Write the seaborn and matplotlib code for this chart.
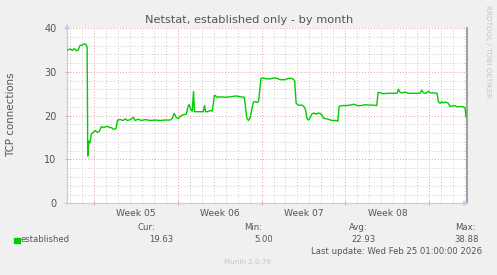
import numpy as np
import pandas as pd
import matplotlib
matplotlib.use("Agg")
import matplotlib.pyplot as plt
import matplotlib.transforms as mtransforms
import seaborn as sns

# ---------------- data ----------------
days = [0.05, 0.28, 0.44, 0.61, 0.78, 0.94, 1.07, 1.28, 1.44, 1.61, 1.68, 1.73,
        1.83, 1.92, 2.03, 2.19, 2.36, 2.53, 2.69, 2.86, 3.03, 3.19, 3.36, 3.53,
        3.69, 3.86, 4.08, 4.22, 4.44, 4.69, 4.86, 5.03, 5.28, 5.53, 5.69, 5.94,
        6.19, 6.53, 6.94, 7.36, 7.78, 8.19, 8.61, 8.78, 8.94, 9.11, 9.28, 9.44,
        9.69, 9.94, 10.11, 10.19, 10.32, 10.44, 10.55, 10.63, 10.94, 11.36, 11.47,
        11.55, 11.78, 11.94, 12.11, 12.30, 12.53, 12.78, 13.19, 13.61, 14.11,
        14.44, 14.78, 14.86, 15.0, 15.13, 15.28, 15.4, 15.55, 15.69, 15.86, 15.98,
        16.17, 16.36, 16.61, 16.94, 17.28, 17.53, 17.78, 18.19, 18.44, 18.78,
        18.98, 19.11, 19.28, 19.61, 19.78, 19.9, 20.0, 20.13, 20.28, 20.42, 20.61,
        20.78, 20.94, 21.11, 21.28, 21.4, 21.61, 21.86, 22.11, 22.5, 22.58, 22.69,
        22.94, 23.28, 23.61, 23.94, 24.19, 24.53, 24.86, 25.19, 25.53, 25.83,
        25.94, 26.19, 26.36, 26.78, 27.19, 27.53, 27.64, 27.78, 27.94, 28.19,
        28.44, 28.78, 29.11, 29.44, 29.58, 29.73, 29.94, 30.14, 30.28, 30.61,
        30.86, 30.97, 31.11, 31.25, 31.36, 31.53, 31.78, 31.94, 32.11, 32.36,
        32.53, 32.78, 33.05, 33.19, 33.27]
conns = [35.0, 35.2, 34.9, 35.3, 34.8, 35.0, 36.0, 36.1, 36.4, 36.2, 35.5, 10.8,
         14.2, 13.8, 15.8, 16.2, 16.6, 16.2, 16.4, 17.5, 17.3, 17.4, 17.6, 17.3,
         17.3, 16.9, 17.0, 19.0, 19.1, 18.9, 19.3, 18.9, 19.1, 19.6, 18.9, 19.2,
         18.9, 19.1, 18.9, 19.0, 18.9, 19.0, 19.0, 19.4, 20.5, 19.6, 19.3, 19.8,
         20.2, 20.3, 22.2, 22.5, 21.4, 21.0, 25.5, 20.9, 20.9, 20.9, 22.3,
         20.9, 20.9, 21.2, 21.0, 24.7, 24.2, 24.3, 24.2, 24.3, 24.5,
         24.3, 24.2, 22.4, 19.4, 18.9, 19.6, 21.3, 23.1, 23.2, 23.0, 23.3,
         28.5, 28.6, 28.4, 28.4, 28.6, 28.5, 28.2, 28.2, 28.5, 28.5,
         28.0, 22.8, 22.4, 22.4, 22.0, 21.3, 19.4, 19.0, 19.5, 20.4, 20.6,
         20.3, 20.6, 20.5, 20.0, 19.4, 19.3, 19.1, 18.9, 18.9, 18.7, 22.1,
         22.3, 22.3, 22.4, 22.6, 22.3, 22.3, 22.5, 22.4, 22.4, 22.3,
         25.3, 25.2, 25.0, 25.1, 25.1, 25.1, 26.0, 25.3, 25.2, 25.4,
         25.1, 25.1, 25.1, 25.1, 25.8, 25.2, 25.1, 25.6, 25.2, 25.2,
         25.1, 23.2, 22.8, 23.2, 22.9, 23.1, 22.9, 22.1, 22.2, 22.3,
         22.0, 22.1, 22.0, 21.8, 19.8]

week_labels = ["Week 05", "Week 06", "Week 07", "Week 08"]
week_starts = [2.22, 9.22, 16.22, 23.22, 30.22]
x_span = (0.0, 33.33)
y_span = (0, 40)
y_major = [0, 10, 20, 30, 40]
series_name = "established"
stat_names = ["Cur:", "Min:", "Avg:", "Max:"]
stat_values = ["19.63", "5.00", "22.93", "38.88"]
title = "Netstat, established only - by month"
ylabel = "TCP connections"
last_update = "Last update: Wed Feb 25 01:00:00 2026"
footer = "Munin 2.0.76"
side_text = "RRDTOOL / TOBI OETIKER"

# ---------------- style ----------------
BG = "#F0F0F0"
TXT = "#555555"
GREEN = "#00CC00"
MAJ = "#E6A0A0"
MINR = "#CCCCCC"
AXC = "#C8C8F0"

plt.rcParams["font.family"] = ["DejaVu Sans"]

W, H = 497, 275
fig = plt.figure(figsize=(W / 100, H / 100), dpi=100, facecolor=BG)

def fx(px):
    return px / W

def fy(py):
    return 1 - py / H

L, R, T, B = 67, 466.7, 28, 203.3
ax = fig.add_axes([fx(L), fy(B), (R - L) / W, (B - T) / H])
ax.set_facecolor("white")

df = pd.DataFrame({"day": days, "conns": conns})
sns.lineplot(data=df, x="day", y="conns", ax=ax, color=GREEN, linewidth=1.0,
             zorder=5)

ax.set_xlim(*x_span)
ax.set_ylim(*y_span)

# ticks and grid
ax.set_yticks(y_major)
ax.set_yticks(np.arange(y_span[0], y_span[1] + 0.1, 2), minor=True)
ax.set_xticks(week_starts)
first_day = week_starts[0] - np.floor(week_starts[0])
ax.set_xticks(np.arange(first_day, x_span[1], 1.0), minor=True)
ax.set_xticklabels([])

ax.grid(which="major", color=MAJ, linestyle=(0, (1, 2)), linewidth=0.7)
ax.grid(which="minor", color=MINR, linestyle=(0, (1, 2)), linewidth=0.7)
ax.set_axisbelow(True)

ax.tick_params(axis="y", which="major", labelsize=7, labelcolor=TXT,
               length=3, direction="inout", color=MAJ, pad=6)
ax.tick_params(axis="y", which="minor", length=2, direction="inout", color=MINR)
ax.tick_params(axis="x", which="major", length=3, direction="inout", color=MAJ)
ax.tick_params(axis="x", which="minor", length=2, direction="inout", color=MINR)

# week labels at mid-week
trans = mtransforms.blended_transform_factory(ax.transData, ax.transAxes)
for i, lab in enumerate(week_labels):
    mid = (week_starts[i] + week_starts[i + 1]) / 2
    ax.text(mid, -0.035, lab, transform=trans, ha="center", va="top",
            fontsize=6.6, color=TXT)

for s in ["top"]:
    ax.spines[s].set_visible(False)
ax.spines["left"].set_color(AXC)
ax.spines["bottom"].set_color(AXC)
ax.spines["right"].set_color("#909090")
ax.spines["right"].set_linewidth(1.2)

# axis arrows
ax.annotate("", xy=(0, 1.04), xytext=(0, 0.99), xycoords="axes fraction",
            arrowprops=dict(arrowstyle="-|>", color=AXC, lw=0.8,
                            mutation_scale=7), annotation_clip=False)
ax.annotate("", xy=(1.012, 0), xytext=(0.995, 0), xycoords="axes fraction",
            arrowprops=dict(arrowstyle="-|>", color=AXC, lw=0.8,
                            mutation_scale=7), annotation_clip=False)

ax.set_xlabel("")
ax.set_ylabel("")

# ---------------- texts ----------------
fig.text(fx(249), fy(20), title, ha="center", va="center", fontsize=8.2,
         color=TXT)
fig.text(fx(11), fy(114.5), ylabel, ha="center", va="center", rotation=90,
         fontsize=7.4, color=TXT)
fig.text(fx(488), fy(51), side_text, ha="center", va="center", rotation=270,
         fontsize=5.2, color="#C4C4C4")

# legend
fig.patches.append(plt.Rectangle((fx(14), fy(243)), fx(5.5), 5.5 / H,
                                 transform=fig.transFigure, color=GREEN))
fig.text(fx(20.5), fy(239), series_name, ha="left", va="center", fontsize=6.1,
         color=TXT)
head_x = [155, 262, 368, 476]
val_x = [173, 273, 376, 479]
for name, hx in zip(stat_names, head_x):
    fig.text(fx(hx), fy(227), name, ha="right", va="center", fontsize=6.1,
             color=TXT)
for val, vx in zip(stat_values, val_x):
    fig.text(fx(vx), fy(239), val, ha="right", va="center", fontsize=6.1,
             color=TXT)
fig.text(fx(482), fy(251), last_update, ha="right", va="center", fontsize=6.1,
         color=TXT)
fig.text(fx(248), fy(262), footer, ha="center", va="center", fontsize=5.2,
         color="#C4C4C4")

fig.savefig("out.png", dpi=100, facecolor=BG)
